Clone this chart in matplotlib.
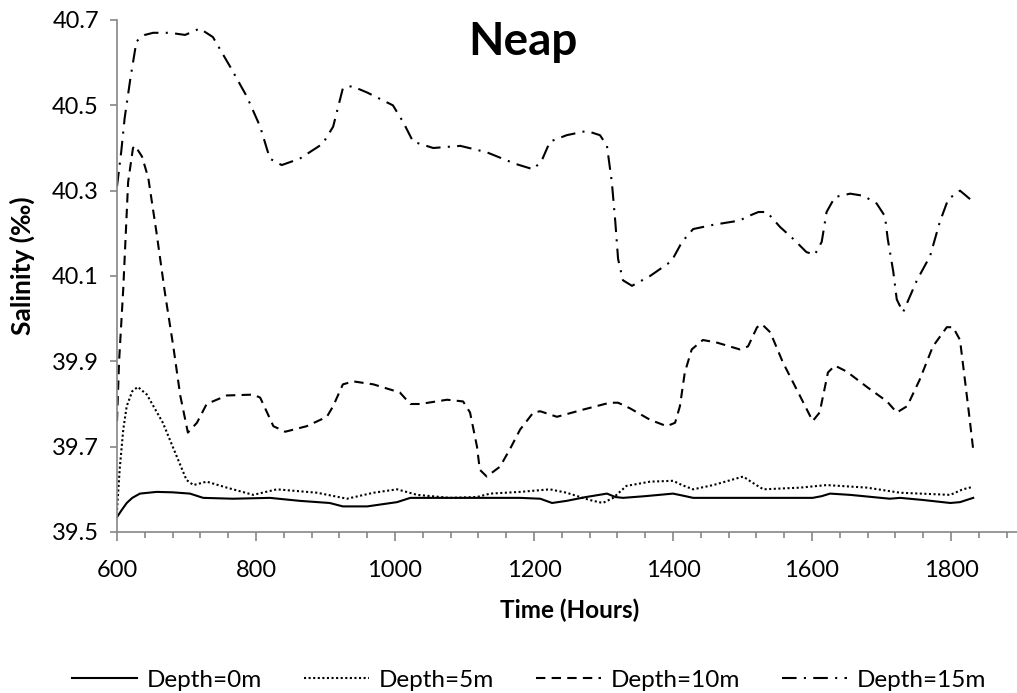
import matplotlib
matplotlib.use("Agg")
import matplotlib.pyplot as plt
from matplotlib.ticker import MultipleLocator, FixedLocator

# Serie Depth=0m (línea continua)
x_0m = [600, 607, 614, 622, 633, 657, 680, 705, 724, 767, 820, 863, 906, 925, 960,
        1003, 1022, 1050, 1100, 1180, 1209, 1226, 1247, 1275, 1305, 1317, 1328, 1360,
        1400, 1415, 1429, 1500, 1601, 1614, 1626, 1655, 1712, 1727, 1760, 1799, 1813, 1832]
y_0m = [39.535, 39.552, 39.568, 39.580, 39.590, 39.594, 39.593, 39.590, 39.580, 39.578,
        39.580, 39.573, 39.568, 39.560, 39.560, 39.570, 39.580, 39.580, 39.580, 39.580,
        39.578, 39.568, 39.573, 39.582, 39.590, 39.582, 39.580, 39.584, 39.590, 39.585,
        39.580, 39.580, 39.580, 39.584, 39.590, 39.587, 39.578, 39.580, 39.575, 39.568,
        39.570, 39.580]

# Serie Depth=5m (punteada)
x_5m = [600, 604, 609, 614, 622, 630, 643, 666, 686, 700, 710, 729, 758, 796, 830, 888,
        931, 969, 1003, 1032, 1079, 1118, 1137, 1180, 1223, 1247, 1280, 1299, 1314, 1333,
        1367, 1400, 1413, 1429, 1458, 1501, 1515, 1530, 1583, 1621, 1679, 1727, 1799,
        1817, 1832]
y_5m = [39.552, 39.650, 39.740, 39.795, 39.830, 39.840, 39.822, 39.756, 39.677, 39.622,
        39.610, 39.618, 39.604, 39.587, 39.600, 39.592, 39.578, 39.592, 39.600, 39.587,
        39.580, 39.582, 39.590, 39.594, 39.600, 39.592, 39.575, 39.568, 39.580, 39.608,
        39.618, 39.620, 39.610, 39.600, 39.610, 39.630, 39.615, 39.600, 39.604, 39.610,
        39.604, 39.592, 39.587, 39.600, 39.606]

# Serie Depth=10m (guiones)
x_10m = [600, 603, 609, 616, 623, 626, 636, 645, 657, 669, 681, 691, 702, 715, 729, 758,
         796, 806, 816, 825, 842, 873, 902, 911, 925, 940, 969, 1007, 1022, 1036, 1075,
         1098, 1108, 1118, 1122, 1132, 1151, 1165, 1180, 1199, 1209, 1233, 1271, 1309,
         1321, 1338, 1367, 1391, 1403, 1410, 1417, 1427, 1443, 1463, 1496, 1508, 1521,
         1528, 1540, 1558, 1583, 1601, 1611, 1623, 1633, 1650, 1679, 1708, 1722, 1737,
         1755, 1774, 1794, 1803, 1813, 1820, 1827, 1832]
y_10m = [39.76, 39.90, 40.07, 40.32, 40.40, 40.405, 40.38, 40.33, 40.20, 40.06, 39.935,
         39.82, 39.733, 39.756, 39.80, 39.82, 39.822, 39.815, 39.78, 39.748, 39.735,
         39.748, 39.77, 39.795, 39.846, 39.853, 39.846, 39.827, 39.80, 39.80, 39.81,
         39.806, 39.78, 39.70, 39.646, 39.63, 39.653, 39.693, 39.74, 39.78, 39.783,
         39.77, 39.787, 39.803, 39.803, 39.79, 39.763, 39.748, 39.756, 39.795, 39.874,
         39.928, 39.95, 39.944, 39.928, 39.935, 39.98, 39.987, 39.968, 39.898, 39.818,
         39.76, 39.78, 39.874, 39.89, 39.876, 39.84, 39.806, 39.78, 39.795, 39.857,
         39.935, 39.98, 39.98, 39.95, 39.857, 39.763, 39.693]

# Serie Depth=15m (guion-punto)
x_15m = [600, 606, 611, 619, 628, 640, 652, 676, 698, 719, 738, 763, 787, 806, 820, 837,
         863, 896, 911, 925, 938, 960, 997, 1012, 1026, 1055, 1094, 1132, 1173, 1199,
         1211, 1223, 1247, 1276, 1295, 1305, 1312, 1317, 1321, 1328, 1341, 1367, 1398,
         1413, 1429, 1458, 1496, 1508, 1523, 1535, 1554, 1573, 1592, 1604, 1614, 1621,
         1633, 1655, 1674, 1693, 1705, 1709, 1717, 1722, 1731, 1751, 1770, 1784, 1796,
         1813, 1832]
y_15m = [40.31, 40.39, 40.47, 40.56, 40.65, 40.665, 40.67, 40.67, 40.665, 40.68, 40.66,
         40.59, 40.52, 40.45, 40.375, 40.36, 40.375, 40.41, 40.45, 40.54, 40.545, 40.53,
         40.50, 40.46, 40.415, 40.40, 40.405, 40.39, 40.363, 40.35, 40.37, 40.415, 40.43,
         40.44, 40.43, 40.405, 40.32, 40.227, 40.14, 40.09, 40.077, 40.10, 40.135, 40.18,
         40.21, 40.22, 40.23, 40.24, 40.25, 40.25, 40.215, 40.187, 40.156, 40.15, 40.18,
         40.25, 40.285, 40.293, 40.288, 40.27, 40.24, 40.187, 40.11, 40.045, 40.015,
         40.09, 40.147, 40.227, 40.28, 40.30, 40.274]

labels = ["Depth=0m", "Depth=5m", "Depth=10m", "Depth=15m"]
y_ticks = [39.5, 39.7, 39.9, 40.1, 40.3, 40.5, 40.7]

AXIS_GRAY = "#868686"

plt.rcParams.update({
    "font.family": ["Lato", "DejaVu Sans"],
    "font.size": 17,
})

fig = plt.figure(figsize=(10.17, 6.93), dpi=100)
ax = fig.add_axes([117 / 1017, 1 - 532 / 693, 1 - 117 / 1017, (532 - 20) / 693])

lw = 1.5
ax.plot(x_0m, y_0m, color="black", linewidth=lw, linestyle="-", label=labels[0])
ax.plot(x_5m, y_5m, color="black", linewidth=lw, linestyle=(0, (1, 1.2)), label=labels[1])
ax.plot(x_10m, y_10m, color="black", linewidth=lw, linestyle=(0, (4.5, 3)), label=labels[2])
ax.plot(x_15m, y_15m, color="black", linewidth=lw,
        linestyle=(0, (7, 3.5, 1, 3.5)), label=labels[3])

ax.set_xlim(600, 1895)
ax.set_ylim(39.5, 40.7)
ax.xaxis.set_major_locator(MultipleLocator(200))
ax.xaxis.set_minor_locator(MultipleLocator(40))
ax.yaxis.set_major_locator(FixedLocator(y_ticks))
ax.yaxis.set_major_formatter(plt.FuncFormatter(lambda v, p: f"{v:.1f}"))

for side in ("top", "right"):
    ax.spines[side].set_visible(False)
for side in ("left", "bottom"):
    ax.spines[side].set_color(AXIS_GRAY)
    ax.spines[side].set_linewidth(1.2)

ax.tick_params(axis="y", which="major", direction="out", length=5, width=1.2,
               color=AXIS_GRAY, pad=8, labelsize=17)
ax.tick_params(axis="x", which="major", direction="out", length=6.5, width=1.2,
               color=AXIS_GRAY, pad=14, labelsize=17)
ax.tick_params(axis="x", which="minor", direction="out", length=4.3, width=1.2,
               color=AXIS_GRAY)

fig.text(523 / 1017, 1 - 42 / 693, "Neap", ha="center", va="center",
         fontsize=33, fontweight="bold")
fig.text(570 / 1017, 1 - 610 / 693, "Time (Hours)", ha="center", va="center",
         fontsize=17.5, fontweight="bold")
fig.text(22 / 1017, 1 - 266 / 693, "Salinity (‰)", ha="center", va="center",
         rotation=90, fontsize=19, fontweight="bold")

fig.legend(loc="center", bbox_to_anchor=(529 / 1017, 1 - 680 / 693), ncol=4,
           frameon=False, fontsize=17.5, handlelength=2.7, handletextpad=0.4,
           columnspacing=1.7, borderpad=0.1)

fig.savefig("out.png", dpi=100)
